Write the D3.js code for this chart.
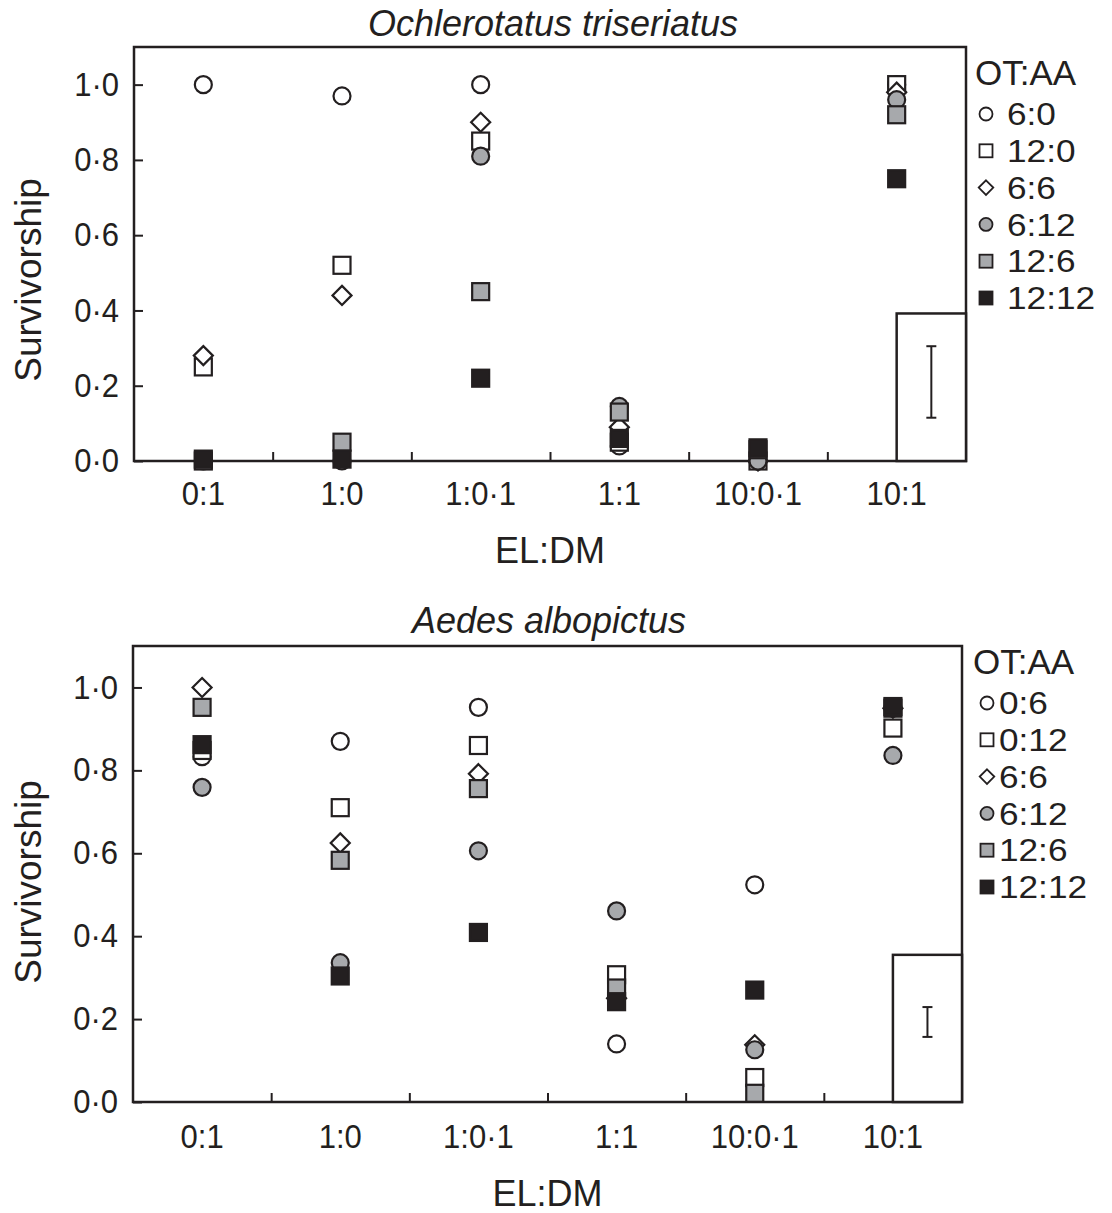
<!DOCTYPE html>
<html>
<head>
<meta charset="utf-8">
<script src="https://cdn.jsdelivr.net/npm/d3@7"></script>
<style>
  body { margin: 0; background: #fff; }
  text { font-family: "Liberation Sans", Arial, Helvetica, sans-serif; fill: #231f20; }
</style>
</head>
<body>
<div id="chart"></div>
<script>
// categories on the x axis (EL:DM)
const categories = ['0:1', '1:0', '1:0·1', '1:1', '10:0·1', '10:1'];
const yTicks = [0, 0.2, 0.4, 0.6, 0.8, 1.0];

// Ochlerotatus triseriatus, OT:AA groups
const otGroups = ['6:0', '12:0', '6:6', '6:12', '12:6', '12:12'];
const otValues = [
  [1.00, 0.97, 1.00, 0.04, 0.00, 1.00],
  [0.25, 0.52, 0.85, 0.05, 0.00, 1.00],
  [0.28, 0.44, 0.90, 0.09, 0.00, 0.98],
  [0.00, 0.00, 0.81, 0.145, 0.00, 0.96],
  [0.00, 0.05, 0.45, 0.13, 0.03, 0.92],
  [0.005, 0.005, 0.22, 0.06, 0.035, 0.75]
];
const otErrBar = [0.115, 0.305];
const otInsetTop = 0.392;

// Aedes albopictus, OT:AA groups
const aaGroups = ['0:6', '0:12', '6:6', '6:12', '12:6', '12:12'];
const aaValues = [
  [0.833, 0.87, 0.952, 0.14, 0.524, 0.95],
  [0.848, 0.71, 0.86, 0.307, 0.059, 0.902],
  [1.00, 0.625, 0.792, 0.25, 0.138, 0.95],
  [0.759, 0.336, 0.606, 0.461, 0.126, 0.836],
  [0.952, 0.583, 0.756, 0.275, 0.021, 0.95],
  [0.862, 0.304, 0.409, 0.242, 0.27, 0.954]
];
const aaErrBar = [0.157, 0.229];
const aaInsetTop = 0.355;

// marker look per group index
const shapes = ['circle', 'square', 'diamond', 'circle', 'square', 'square'];
const fills = ['#ffffff', '#ffffff', '#ffffff', '#a7a9ac', '#a7a9ac', '#231f20'];
const ink = '#231f20';

const svg = d3.select('#chart')
  .append('svg')
  .attr('width', 1112)
  .attr('height', 1213);

function marker(sel, shape, s) {
  if (shape === 'circle') {
    return sel.append('circle').attr('r', s * 0.5);
  } else if (shape === 'square') {
    return sel.append('rect')
      .attr('x', -s / 2).attr('y', -s / 2)
      .attr('width', s).attr('height', s);
  }
  let h = s * 0.56;
  return sel.append('path')
    .attr('d', 'M0,' + (-h) + 'L' + h + ',0L0,' + h + 'L' + (-h) + ',0Z');
}

function drawPanel(cfg) {
  let g = svg.append('g');

  let x = d3.scaleBand()
    .domain(categories)
    .range([cfg.left, cfg.right]);

  let xEdge = d3.scaleLinear()
    .domain([0, categories.length])
    .range([cfg.left, cfg.right]);

  let y = d3.scaleLinear()
    .domain([0, 1.1])
    .range([cfg.bottom, cfg.top]);

  // Title
  g.append('text')
    .attr('x', cfg.titleX)
    .attr('y', cfg.titleY)
    .attr('dy', '0.35em')
    .attr('text-anchor', 'middle')
    .attr('font-size', '36px')
    .attr('font-style', 'italic')
    .text(cfg.title);

  // Y axis
  let yAxisCall = d3.axisLeft(y)
    .tickValues(yTicks)
    .tickSize(-9)
    .tickPadding(16)
    .tickFormat(d => d3.format('.1f')(d).replace('.', '·'));

  let yAxis = g.append('g')
    .attr('transform', 'translate(' + cfg.left + ',0)')
    .call(yAxisCall);
  yAxis.select('.domain').remove();
  yAxis.selectAll('line').attr('stroke', ink).attr('stroke-width', 2);
  yAxis.selectAll('text')
    .attr('font-size', '33px')
    .attr('fill', ink)
    .attr('transform', 'scale(0.94,1)');

  // X axis ticks between the categories
  let xTickCall = d3.axisBottom(xEdge)
    .tickValues(d3.range(1, categories.length))
    .tickSize(-9)
    .tickFormat('');

  let xTicks = g.append('g')
    .attr('transform', 'translate(0,' + cfg.bottom + ')')
    .call(xTickCall);
  xTicks.select('.domain').remove();
  xTicks.selectAll('line').attr('stroke', ink).attr('stroke-width', 2);

  // X labels
  let xAxis = g.append('g')
    .attr('transform', 'translate(0,' + cfg.bottom + ')')
    .call(d3.axisBottom(x).tickSize(0).tickPadding(cfg.labelPad));
  xAxis.select('.domain').remove();
  xAxis.selectAll('text')
    .attr('font-size', '33px')
    .attr('fill', ink)
    .attr('transform', 'scale(0.94,1)');

  // Axis labels
  g.append('text')
    .attr('x', (cfg.left + cfg.right) / 2)
    .attr('y', cfg.xLabelY)
    .attr('dy', '0.35em')
    .attr('text-anchor', 'middle')
    .attr('font-size', '36px')
    .text('EL:DM');

  g.append('text')
    .attr('transform', 'translate(28,' + cfg.yLabelY + ') rotate(-90)')
    .attr('dy', '0.35em')
    .attr('text-anchor', 'middle')
    .attr('font-size', '37px')
    .text('Survivorship');

  // Frame
  g.append('rect')
    .attr('x', cfg.left)
    .attr('y', cfg.top)
    .attr('width', cfg.right - cfg.left)
    .attr('height', cfg.bottom - cfg.top)
    .attr('fill', 'none')
    .attr('stroke', ink)
    .attr('stroke-width', 2.5);

  // Inset with error bar
  let insetX = x(categories[categories.length - 1]) + x.bandwidth() / 2;
  g.append('rect')
    .attr('x', insetX)
    .attr('y', y(cfg.insetTop))
    .attr('width', cfg.right - insetX)
    .attr('height', cfg.bottom - y(cfg.insetTop))
    .attr('fill', '#fff')
    .attr('stroke', ink)
    .attr('stroke-width', 2.5);

  let ex = (insetX + cfg.right) / 2;
  let err = g.append('g').attr('stroke', ink).attr('stroke-width', 2);
  err.append('line')
    .attr('x1', ex).attr('x2', ex)
    .attr('y1', y(cfg.errBar[0])).attr('y2', y(cfg.errBar[1]));
  cfg.errBar.forEach(v => {
    err.append('line')
      .attr('x1', ex - 5).attr('x2', ex + 5)
      .attr('y1', y(v)).attr('y2', y(v));
  });

  // Points
  cfg.values.forEach((series, i) => {
    series.forEach((v, j) => {
      let p = g.append('g')
        .attr('transform', 'translate(' + (x(categories[j]) + x.bandwidth() / 2) + ',' + y(v) + ')');
      marker(p, shapes[i], 17)
        .attr('fill', fills[i])
        .attr('stroke', ink)
        .attr('stroke-width', 2.2);
    });
  });

  // Legend
  g.append('text')
    .attr('x', cfg.legX)
    .attr('y', cfg.legY)
    .attr('dy', '0.35em')
    .attr('font-size', '35px')
    .text('OT:AA');

  cfg.groups.forEach((name, i) => {
    let ly = cfg.legY + 41 + i * 36.8;
    let m = g.append('g')
      .attr('transform', 'translate(' + cfg.legMarkX + ',' + ly + ')');
    marker(m, shapes[i], 13)
      .attr('fill', fills[i])
      .attr('stroke', ink)
      .attr('stroke-width', 1.8);
    g.append('text')
      .attr('x', cfg.legTextX)
      .attr('y', ly)
      .attr('dy', '0.35em')
      .attr('font-size', '32px')
      .attr('transform', 'translate(' + cfg.legTextX + ',' + ly + ') scale(1.1,1) translate(' + (-cfg.legTextX) + ',' + (-ly) + ')')
      .text(name);
  });
}

drawPanel({
  title: 'Ochlerotatus triseriatus', titleX: 553, titleY: 23,
  left: 134, right: 966, top: 47, bottom: 461,
  labelPad: 21, xLabelY: 550, yLabelY: 280,
  values: otValues, groups: otGroups,
  errBar: otErrBar, insetTop: otInsetTop,
  legX: 975, legY: 73, legMarkX: 986, legTextX: 1007
});

drawPanel({
  title: 'Aedes albopictus', titleX: 549, titleY: 620,
  left: 133, right: 962, top: 646, bottom: 1102,
  labelPad: 23, xLabelY: 1193, yLabelY: 882,
  values: aaValues, groups: aaGroups,
  errBar: aaErrBar, insetTop: aaInsetTop,
  legX: 973, legY: 662, legMarkX: 987, legTextX: 999
});
</script>
</body>
</html>
